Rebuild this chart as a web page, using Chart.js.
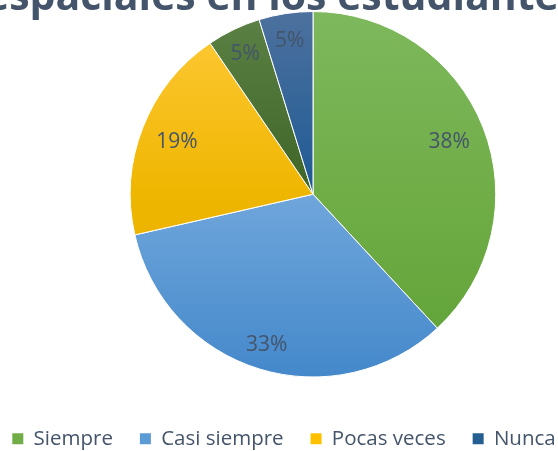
<!DOCTYPE html>
<html>
<head>
<meta charset="utf-8">
<script src="https://cdn.jsdelivr.net/npm/chart.js@4"></script>
<style>
  html, body { margin: 0; padding: 0; background: #fff; overflow: hidden; }
  /* the original picture is a crop of a wider chart: title and legend run past the edges */
  #wrap { position: absolute; left: -26px; top: 0; width: 620px; height: 459px; }
</style>
</head>
<body>
<div id="wrap"><canvas id="chart"></canvas></div>
<script>
// ============================================================
// Data
// ============================================================
const titleText = 'espaciales en los estudiantes';
const categories = ['Siempre', 'Casi siempre', 'Pocas veces', 'Casi nunca', 'Nunca'];
const counts = [8, 7, 4, 1, 1];
const hiddenInLegend = ['Casi nunca'];

// ============================================================
// Styles
// ============================================================
const textColor = '#44546A';
// top / centre / bottom of the vertical gradient used on each slice
const sliceShades = [
  ['#7EB85D', '#70AD47', '#5FA236'],
  ['#8AB8E4', '#6FA6DB', '#4488CB'],
  ['#FFCA3A', '#EFB600', '#E3AA00'],
  ['#5C8146', '#3E6526', '#2F511A'],
  ['#4D719E', '#1E5A94', '#174B7E'],
];
const legendColors = ['#70AD47', '#5B9BD5', '#FFC000', '#43682B', '#255E91'];
// where the % label sits, as a share of the radius
const labelRadius = [0.8, 0.86, 0.8, 0.855, 0.855];

function sliceFill(context) {
  const chart = context.chart;
  const area = chart.chartArea;
  const shades = sliceShades[context.dataIndex];
  if (!area) return shades[1];
  const r = Math.min(area.width, area.height) / 2;
  const cy = (area.top + area.bottom) / 2;
  const g = chart.ctx.createLinearGradient(0, cy - r, 0, cy + r);
  g.addColorStop(0, shades[0]);
  g.addColorStop(0.5, shades[1]);
  g.addColorStop(1, shades[2]);
  return g;
}

// Percentage labels inside the slices
const pctLabels = {
  id: 'pctLabels',
  afterDatasetsDraw(chart) {
    const ctx = chart.ctx;
    const meta = chart.getDatasetMeta(0);
    const total = counts.reduce((a, b) => a + b, 0);
    ctx.save();
    ctx.font = '21px "Open Sans"';
    ctx.fillStyle = textColor;
    ctx.textAlign = 'center';
    ctx.textBaseline = 'middle';
    meta.data.forEach((arc, i) => {
      const p = arc.getProps(['x', 'y', 'startAngle', 'endAngle', 'outerRadius'], true);
      const mid = (p.startAngle + p.endAngle) / 2;
      const d = p.outerRadius * labelRadius[i];
      const text = Math.round(counts[i] / total * 100) + '%';
      ctx.fillText(text, p.x + Math.cos(mid) * d, p.y + Math.sin(mid) * d + 1);
    });
    ctx.restore();
  }
};

// Big title, cut off at the top like the original
const topTitle = {
  id: 'topTitle',
  afterDraw(chart) {
    const ctx = chart.ctx;
    ctx.save();
    ctx.font = 'bold 41px "Open Sans"';
    ctx.fillStyle = textColor;
    ctx.textAlign = 'center';
    ctx.textBaseline = 'alphabetic';
    ctx.fillText(titleText, chart.width / 2 - 2, 10);
    ctx.restore();
  }
};

new Chart(document.getElementById('chart'), {
  type: 'pie',
  data: {
    labels: categories,
    datasets: [{
      data: counts,
      backgroundColor: sliceFill,
      borderColor: '#ffffff',
      borderWidth: 1,
    }]
  },
  options: {
    responsive: true,
    maintainAspectRatio: false,
    animation: false,
    layout: { padding: { top: 11, left: 0, right: 0, bottom: 0 } },
    plugins: {
      tooltip: { enabled: false },
      title: { display: false },
      // empty spacer on the left so the pie sits right of the legend centre
      subtitle: {
        display: true,
        position: 'left',
        text: '',
        padding: 0,
        font: { size: 58, lineHeight: 1 },
      },
      legend: {
        position: 'bottom',
        title: { display: true, text: '', padding: 0, font: { size: 24, lineHeight: 1 } },
        labels: {
          boxWidth: 11,
          boxHeight: 11,
          padding: 27,
          color: textColor,
          font: { family: 'Open Sans', size: 20.5 },
          generateLabels: () => categories.map((name, i) => ({
            text: name,
            fillStyle: legendColors[i],
            strokeStyle: legendColors[i],
            lineWidth: 0,
            fontColor: textColor,
            hidden: false,
            index: i,
          })).filter(item => !hiddenInLegend.includes(item.text)),
        }
      }
    }
  },
  plugins: [pctLabels, topTitle]
});
</script>
</body>
</html>
